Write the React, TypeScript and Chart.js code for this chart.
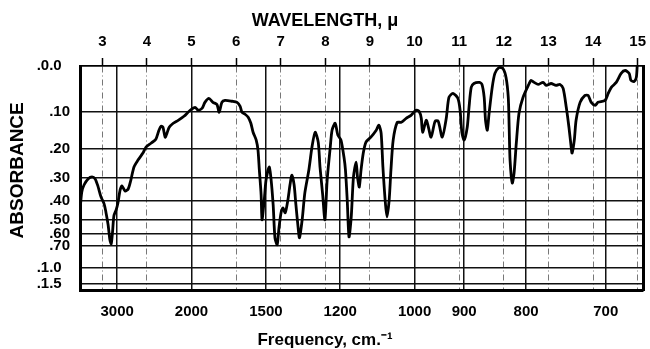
import React, { useEffect, useRef } from 'react';
import { Chart, registerables } from 'chart.js';

Chart.register(...registerables);

// Spectrum: wavelength (microns) and transmittance (%)
const wavelengthMicrons = [
  2.51, 2.54, 2.59, 2.68, 2.77, 2.84, 2.90, 2.97, 3.04, 3.08,
  3.13, 3.17, 3.20, 3.23, 3.26, 3.31, 3.35, 3.40, 3.44, 3.51,
  3.58, 3.64, 3.71, 3.80, 3.91, 3.98, 4.09, 4.20, 4.27, 4.32,
  4.36, 4.41, 4.45, 4.50, 4.59, 4.70, 4.83, 4.97, 5.08, 5.15,
  5.24, 5.30, 5.39, 5.48, 5.57, 5.62, 5.68, 5.75, 5.91, 6.02,
  6.09, 6.13, 6.20, 6.27, 6.33, 6.38, 6.45, 6.49, 6.52, 6.56,
  6.58, 6.63, 6.67, 6.74, 6.78, 6.83, 6.87, 6.92, 6.96, 7.01,
  7.05, 7.10, 7.16, 7.21, 7.25, 7.30, 7.34, 7.39, 7.42, 7.48,
  7.54, 7.63, 7.70, 7.77, 7.84, 7.88, 7.94, 7.99, 8.04, 8.11,
  8.15, 8.22, 8.28, 8.35, 8.42, 8.45, 8.49, 8.53, 8.58, 8.63,
  8.69, 8.72, 8.76, 8.80, 8.85, 8.91, 9.02, 9.14, 9.20, 9.25,
  9.29, 9.34, 9.38, 9.43, 9.47, 9.52, 9.61, 9.70, 9.81, 9.92,
  10.03, 10.10, 10.15, 10.18, 10.26, 10.30, 10.37, 10.46, 10.53, 10.62,
  10.71, 10.77, 10.86, 10.97, 11.02, 11.06, 11.11, 11.18, 11.22, 11.27,
  11.33, 11.45, 11.51, 11.56, 11.59, 11.63, 11.67, 11.74, 11.80, 11.89,
  11.98, 12.05, 12.10, 12.12, 12.14, 12.19, 12.23, 12.28, 12.34, 12.43,
  12.57, 12.61, 12.68, 12.77, 12.88, 12.95, 13.06, 13.17, 13.26, 13.33,
  13.40, 13.46, 13.51, 13.53, 13.58, 13.62, 13.71, 13.82, 13.89, 13.96,
  14.05, 14.11, 14.27, 14.34, 14.41, 14.52, 14.63, 14.72, 14.81, 14.85,
  14.92, 14.97, 14.99,
];

const transmittancePct = [
  38.1, 43.9, 47, 49.7, 50.6, 49.7, 46.6, 41.7, 38.6, 35,
  29.3, 22.6, 20.8, 26.2, 33.3, 35.9, 39, 44.8, 46.6, 44.3,
  45.2, 49.2, 55, 58.1, 61.2, 63.9, 65.6, 67.4, 71.4, 73.2,
  72.7, 68.3, 70.1, 72.7, 74.5, 75.8, 77.6, 80.3, 81.6, 80.3,
  81.2, 83.8, 85.6, 83.8, 82.9, 79.4, 83.8, 84.7, 84.3, 83.8,
  82, 79.4, 78.5, 77.2, 74.5, 70.5, 67, 62.5, 53.7, 42.6,
  31.5, 40.3, 49.2, 55, 50.1, 38.1, 23.5, 20.4, 27.9, 35,
  36.8, 34.6, 40.3, 47.4, 51.4, 47, 38.1, 27.9, 23.5, 31.5,
  43.5, 53.7, 63.9, 70.5, 66.1, 55, 42.6, 31.5, 49.2, 63.9,
  71.4, 74.5, 69.2, 67, 59, 53.7, 40.3, 23.9, 32.8, 50.6,
  57.2, 50.6, 46.1, 53.7, 61.2, 66.1, 68.3, 71.4, 73.6, 70.1,
  55, 40.3, 32.8, 40.3, 53.7, 67, 74.9, 74.9, 76.7, 78,
  80.3, 79.8, 76.7, 70.5, 75.8, 73.6, 68.3, 75.4, 75.4, 68.3,
  76.7, 86, 87.8, 85.6, 80.3, 70.5, 67, 72.7, 81.6, 90.5,
  92.2, 92.7, 91.8, 86, 75.8, 71.4, 78.9, 90.5, 96.7, 99.3,
  98.9, 94.9, 86, 72.7, 58.1, 47.9, 52.3, 65.6, 78.9, 86,
  92.2, 93.6, 92.7, 91.8, 92.7, 91.4, 92.2, 91.4, 91.8, 90,
  81.6, 72.7, 63.9, 61.2, 67, 75.8, 83.8, 86.9, 86.9, 83.8,
  82.5, 83.8, 84.7, 87.8, 90.5, 92.7, 96.7, 98, 96.7, 93.6,
  93.1, 94.9, 100,
];

const wavelengthTicks = [3, 4, 5, 6, 7, 8, 9, 10, 11, 12, 13, 14, 15];
const frequencyTicks = [3000, 2000, 1500, 1200, 1000, 900, 800, 700];
const absorbanceTicks = [0, 0.1, 0.2, 0.3, 0.4, 0.5, 0.6, 0.7, 1.0, 1.5];
const absorbanceLabels = ['.0.0', '.10', '.20', '.30', '.40', '.50', '.60', '.70', '.1.0', '.1.5'];

const WAVELENGTH_MIN = 2.5;
const WAVELENGTH_MAX = 15.12;

const FONT = "'Liberation Sans', Arial, Helvetica, sans-serif";

export default function App() {
  const ref = useRef<HTMLCanvasElement>(null);

  useEffect(() => {
    document.body.style.margin = '0';
    const canvas = ref.current;
    if (!canvas) return;
    Chart.defaults.font.family = FONT;
    Chart.defaults.color = '#000';

    const points = wavelengthMicrons.map((w, i) => ({ x: w, y: transmittancePct[i] }));

    const chart = new Chart(canvas, {
      type: 'line',
      data: {
        datasets: [
          {
            data: points,
            borderColor: '#000',
            borderWidth: 2.8,
            pointRadius: 0,
            tension: 0.25,
            fill: false,
            xAxisID: 'x',
            yAxisID: 'y',
          },
        ],
      },
      options: {
        responsive: false,
        animation: false,
        devicePixelRatio: 1,
        layout: { padding: 0 },
        plugins: {
          legend: { display: false },
          tooltip: { enabled: false },
          title: {
            display: true,
            text: 'WAVELENGTH, μ',
            color: '#000',
            font: { size: 18, weight: 'bold', family: FONT },
            padding: { top: 10, bottom: 0 },
          },
          subtitle: {
            display: true,
            position: 'bottom',
            text: 'Frequency, cm.⁻¹',
            color: '#000',
            font: { size: 17, weight: 'bold', family: FONT, lineHeight: 1 },
            padding: { top: 0, bottom: 0 },
          },
        },
        scales: {
          x: {
            type: 'linear',
            position: 'top',
            min: WAVELENGTH_MIN,
            max: WAVELENGTH_MAX,
            afterBuildTicks: (s: any) => {
              s.ticks = wavelengthTicks.map((v) => ({ value: v }));
            },
            afterFit: (s: any) => {
              s.height = 34.4;
              s.paddingLeft = 0;
              s.paddingRight = 0;
            },
            ticks: {
              autoSkip: false,
              maxRotation: 0,
              padding: 7.5,
              color: '#000',
              font: { size: 15, weight: 'bold' },
              callback: (_v: any, i: number) => String(wavelengthTicks[i]),
            },
            grid: {
              color: '#777',
              lineWidth: 1,
              drawTicks: true,
              tickLength: 8,
              tickColor: '#000',
              tickWidth: 1.5,
            },
            border: { display: true, color: '#000', width: 1.5, dash: [6, 3, 1, 3] },
          },
          x2: {
            type: 'linear',
            position: 'bottom',
            min: WAVELENGTH_MIN,
            max: WAVELENGTH_MAX,
            afterBuildTicks: (s: any) => {
              s.ticks = frequencyTicks.map((f) => ({ value: 10000 / f }));
            },
            afterFit: (s: any) => {
              s.height = 41.5;
              s.paddingLeft = 0;
              s.paddingRight = 0;
            },
            ticks: {
              autoSkip: false,
              maxRotation: 0,
              padding: 12.5,
              color: '#000',
              font: { size: 15, weight: 'bold' },
              callback: (_v: any, i: number) => String(frequencyTicks[i]),
            },
            grid: { color: '#111', lineWidth: 1.5, drawTicks: false },
            border: { display: true, color: '#000', width: 3 },
          },
          y: {
            type: 'linear',
            position: 'left',
            min: 0,
            max: 100,
            afterBuildTicks: (s: any) => {
              s.ticks = absorbanceTicks.map((a) => ({ value: 100 * Math.pow(10, -a) }));
            },
            afterFit: (s: any) => {
              s.width = 80;
              s.paddingTop = 0;
              s.paddingBottom = 0;
            },
            ticks: {
              autoSkip: false,
              padding: 10,
              color: '#000',
              font: { size: 15, weight: 'bold' },
              callback: (_v: any, i: number) => {
                const label = absorbanceLabels[i];
                return label.length > 3 ? label + '  ' : label;
              },
            },
            grid: { color: '#111', lineWidth: 1.5, drawTicks: false },
            border: { display: true, color: '#000', width: 3 },
            title: {
              display: true,
              text: '   ABSORBANCE',
              color: '#000',
              font: { size: 19, weight: 'bold' },
              padding: { top: 6, bottom: 0 },
            },
          },
          y2: {
            type: 'linear',
            position: 'right',
            min: 0,
            max: 100,
            ticks: { display: false },
            grid: { display: false, drawTicks: false },
            border: { display: true, color: '#000', width: 3 },
            afterFit: (s: any) => {
              s.width = 7;
              s.paddingTop = 0;
              s.paddingBottom = 0;
            },
          },
        },
      },
    } as any);

    return () => {
      chart.destroy();
    };
  }, []);

  return (
    <div style={{ position: 'fixed', left: 0, top: 0, width: 650, height: 349, background: '#fff' }}>
      <canvas ref={ref} width={650} height={349} style={{ display: 'block' }} />
    </div>
  );
}
